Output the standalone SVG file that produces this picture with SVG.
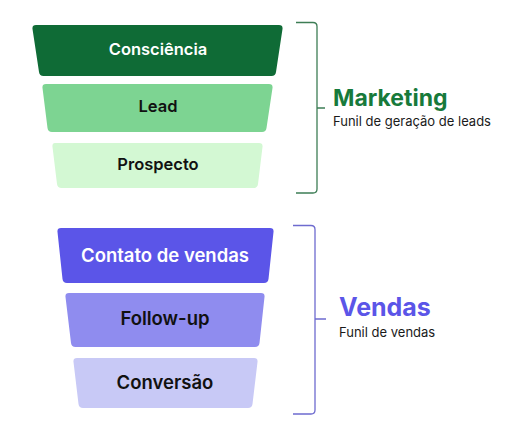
<svg xmlns="http://www.w3.org/2000/svg" width="519" height="436" viewBox="0 0 519 436">
<style>
.lbl{font-family:Inter,"Liberation Sans",sans-serif;font-weight:600;font-size:16.5px;text-anchor:middle}
.big{font-size:18.5px}
.ttl{font-family:Inter,"Liberation Sans",sans-serif;font-weight:700;font-size:23px}
.sub{font-family:Inter,"Liberation Sans",sans-serif;font-size:13px;fill:#1a1a1a}
.br{fill:none;stroke-width:1.3}
</style>
<rect width="519" height="436" fill="#ffffff"/>
<g id="consciencia">
<path d="M36 25 H279 Q283 25 282.5 29 L276 72 Q275.5 76 271.5 76 H43.5 Q39.5 76 39 72 L32.5 29 Q32 25 36 25 Z" fill="#0f6b36"/>
<text class="lbl" x="158" y="55" fill="#ffffff">Consciência</text>
</g>
<g id="lead">
<path d="M46 84 H269 Q273 84 272.5 88 L266.5 128 Q266 132 262 132 H52 Q48 132 47.5 128 L42.5 88 Q42 84 46 84 Z" fill="#7dd492"/>
<text class="lbl" x="158" y="112" fill="#111111">Lead</text>
</g>
<g id="prospecto">
<path d="M55 143 H259 Q263 143 262.5 147 L258 184 Q257.5 188 253.5 188 H61.5 Q57.5 188 57 184 L52.5 147 Q52 143 55 143 Z" fill="#d3f8d3"/>
<text class="lbl" x="158" y="170" fill="#111111">Prospecto</text>
</g>
<g id="contato">
<path d="M61 228 H270 Q274 228 273.5 232 L268.5 279 Q268 283 264 283 H67 Q63 283 62.5 279 L57.5 232 Q57 228 61 228 Z" fill="#5b55e8"/>
<text class="lbl big" x="165" y="262" fill="#ffffff">Contato de vendas</text>
</g>
<g id="followup">
<path d="M69 293 H261 Q265 293 264.5 297 L259.5 343 Q259 347 255 347 H75.5 Q71.5 347 71 343 L65.5 297 Q65 293 69 293 Z" fill="#8f8cef"/>
<text class="lbl big" x="165" y="325" fill="#111111">Follow-up</text>
</g>
<g id="conversao">
<path d="M77 358 H254 Q258 358 257.5 362 L252.5 404 Q252 408 248 408 H83 Q79 408 78.5 404 L73.5 362 Q73 358 77 358 Z" fill="#c8c9f6"/>
<text class="lbl big" x="165" y="389" fill="#111111">Conversão</text>
</g>
<g id="connectors">
<path class="br" stroke="#3d7d55" d="M296 22.5 H313 Q317 22.5 317 26.5 V189 Q317 193 313 193 H296 M317 108 H325"/>
<path class="br" stroke="#6e6bcf" d="M293 225.5 H311 Q315 225.5 315 229.5 V410 Q315 414 311 414 H293 M315 319 H326"/>
</g>
<g id="marketing">
<text class="ttl" x="333" y="106" fill="#177a3b">Marketing</text>
<text class="sub" x="333" y="126">Funil de geração de leads</text>
</g>
<g id="vendas">
<text class="ttl" x="339" y="316" fill="#5b55e8" style="font-size:25px">Vendas</text>
<text class="sub" x="339" y="337">Funil de vendas</text>
</g>
</svg>
